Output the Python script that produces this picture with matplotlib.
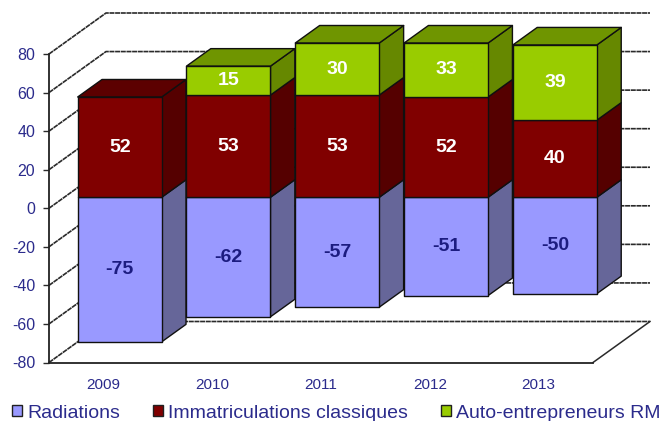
import matplotlib
matplotlib.use("Agg")
import matplotlib.pyplot as plt
from matplotlib.patches import Patch, Polygon

plt.rcParams['font.family'] = ['Liberation Sans', 'DejaVu Sans']
plt.rcParams['axes.unicode_minus'] = False

years = ['2009', '2010', '2011', '2012', '2013']
radiations = [-75, -62, -57, -51, -50]
classiques = [52, 53, 53, 52, 40]
auto_ent = [0, 15, 30, 33, 39]
y_ticks = [-80, -60, -40, -20, 0, 20, 40, 60, 80]

TXT = '#2b2b8c'
GRID = '#2a2a2a'
YMIN, YMAX = -80, 80
W, H = 664, 421
L, R, T, B = 49, 593, 54, 362.5

fig = plt.figure(figsize=(W / 100, H / 100), dpi=100, facecolor='white')
ax = fig.add_axes([L / W, (H - B) / H, (R - L) / W, (B - T) / H])
ax.set_xlim(-0.5, 4.5)
ax.set_ylim(YMIN, YMAX)
ax.patch.set_visible(False)

# oblique projection of the depth axis, in data units
px_x = (R - L) / 5
px_y = (B - T) / (YMAX - YMIN)
DX, DY = 57 / px_x, 41 / px_y
D0, D1 = 11 / 41, 28.5 / 41
HALF = 84 / px_x / 2
SHIFT = 1 / px_x


def P(x, y, d):
    return (x + d * DX, y + d * DY)


# walls and floor
for v in y_ticks:
    pts = [P(-0.5, v, 0), P(-0.5, v, 1), P(4.5, v, 1)]
    ax.plot(*zip(*pts), color=GRID, lw=1.2, clip_on=False, zorder=1,
            ls=(0, (3, 0.4)))
pts = [P(4.5, YMIN, 0), P(4.5, YMIN, 1)]
ax.plot(*zip(*pts), color=GRID, lw=1.1, clip_on=False, zorder=1)


def box(i, lo, hi, front, side, top, show_top):
    xa, xb = i - HALF + SHIFT, i + HALF + SHIFT
    kw = dict(edgecolor='#101010', lw=1.0, clip_on=False, joinstyle='round')
    z = 3 + i
    ax.add_patch(Polygon([P(xb, lo, D0), P(xb, lo, D1), P(xb, hi, D1), P(xb, hi, D0)],
                         facecolor=side, zorder=z, **kw))
    if show_top:
        ax.add_patch(Polygon([P(xa, hi, D0), P(xb, hi, D0), P(xb, hi, D1), P(xa, hi, D1)],
                             facecolor=top, zorder=z, **kw))
    ax.add_patch(Polygon([P(xa, lo, D0), P(xb, lo, D0), P(xb, hi, D0), P(xa, hi, D0)],
                         facecolor=front, zorder=z, **kw))


def label(i, lo, hi, val, color):
    x, y = P(i + SHIFT, (lo + hi) / 2, D0)
    ax.text(x, y, str(val), ha='center', va='center', color=color, fontsize=14,
            fontweight='bold', zorder=20)


for i in range(len(years)):
    r, c, a = radiations[i], classiques[i], auto_ent[i]
    c_top = min(c, YMAX)
    a_top = min(c + a, YMAX)
    box(i, r, 0, '#9999ff', '#666699', '#7a7acc', False)
    box(i, 0, c_top, '#800000', '#550000', '#5c0000', a == 0)
    label(i, r, 0, r, '#1c1c80')
    label(i, 0, c_top, c, 'white')
    if a:
        box(i, c_top, a_top, '#99cc00', '#668800', '#6f9500', True)
        label(i, c_top, a_top, a, 'white')

ax.set_xticks(range(len(years)), years)
ax.set_yticks(y_ticks, [str(v) for v in y_ticks])
ax.tick_params(axis='x', length=0, pad=11, labelsize=11, labelcolor=TXT)
ax.tick_params(axis='y', length=4, width=1, color=GRID, pad=6, labelsize=11.5, labelcolor=TXT)
for s in ('top', 'right'):
    ax.spines[s].set_visible(False)
for s in ('left', 'bottom'):
    ax.spines[s].set_color('#222222')
    ax.spines[s].set_linewidth(1.3)
    ax.spines[s].set_zorder(2)

handles = [Patch(facecolor=col, edgecolor='#202020', lw=1.0)
           for col in ('#9999ff', '#800000', '#99cc00')]
fig.legend(handles, ['Radiations', 'Immatriculations classiques', 'Auto-entrepreneurs RM'],
           ncols=3, loc='center left', bbox_to_anchor=(12 / W, 1 - 413 / H), frameon=False,
           fontsize=14, labelcolor=TXT, handlelength=0.52, handleheight=0.52,
           handletextpad=0.26, columnspacing=1.7, borderpad=0, borderaxespad=0)

fig.savefig('out.png', dpi=100, facecolor='white')
